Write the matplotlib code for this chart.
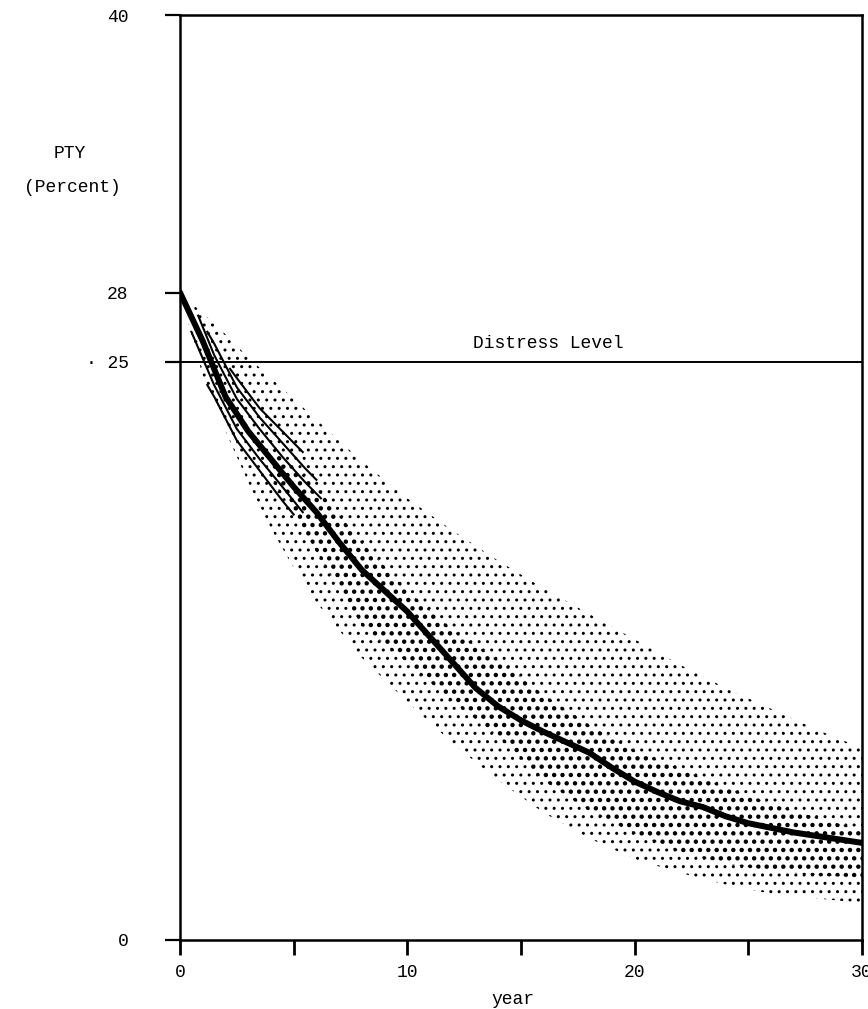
import matplotlib
matplotlib.use('Agg')
import matplotlib.pyplot as plt

# ---------------- data ----------------
years = list(range(0, 31))
mean_pty = [28.0, 25.9, 23.5, 22.0, 20.8, 19.6, 18.5, 17.2, 16.0, 15.1,
            14.2, 13.1, 12.0, 10.9, 10.1, 9.5, 9.0, 8.55, 8.1, 7.45,
            6.85, 6.4, 6.0, 5.75, 5.35, 5.05, 4.85, 4.65, 4.5, 4.35, 4.2]

band_x = [0, 1, 2, 3, 4, 5, 6, 8, 10, 12, 14, 16, 18, 20, 22, 24, 26, 28, 30]
outer_upper = [28.0, 27.1, 26.2, 25.2, 24.3, 23.4, 22.5, 20.7, 19.1, 17.7,
               16.4, 15.2, 14.1, 13.0, 11.9, 10.9, 10.0, 9.1, 8.3]
outer_lower = [28.0, 24.4, 22.0, 19.8, 17.8, 16.1, 14.6, 12.2, 10.3, 8.5,
               6.9, 5.5, 4.4, 3.5, 2.9, 2.4, 2.0, 1.8, 1.6]

dense_x = [4, 6, 8, 10, 12, 14, 16, 18, 20, 22, 24, 26, 28, 30]
dense_upper = [21.3, 19.6, 17.2, 15.1, 13.4, 12.1, 10.6, 9.3, 8.2, 7.4, 6.6, 5.9, 5.3, 4.75]
dense_lower = [20.0, 16.8, 13.6, 12.0, 10.3, 8.8, 6.9, 5.6, 4.6, 3.8, 3.3, 3.0, 2.8, 2.7]

# thin early trajectories
thin1_x = [0.8, 1.5, 2.5, 3.5, 4.5, 5.5, 6.2]
thin1_y = [27.0, 25.3, 23.4, 22.1, 20.9, 19.8, 19.1]
thin2_x = [1.2, 1.5, 2.5, 3.5, 4.5, 5.5, 6.0]
thin2_y = [26.3, 25.8, 23.9, 22.6, 21.5, 20.4, 19.9]
thin3_x = [2.2, 2.5, 3.5, 4.5, 5.4]
thin3_y = [24.7, 24.3, 23.0, 22.0, 21.1]
thin4_x = [0.5, 1.5, 2.5, 3.5, 4.5, 5.4]
thin4_y = [26.3, 24.0, 22.1, 20.8, 19.6, 18.5]
thin5_x = [1.2, 1.5, 2.5, 3.5, 4.5, 5.0]
thin5_y = [24.0, 23.5, 21.6, 20.3, 19.0, 18.4]

distress_level = 25
y_ticks = [0, 25, 28, 40]
y_ticklabels = ['0', '\u00b7 25', '28', '40']
x_major = [0, 10, 20, 30]
x_minor = [5, 15, 25]
x_ticklabels = ['0', '10', '20', '30']

# ---------------- figure ----------------
FONT = ['Liberation Mono', 'DejaVu Sans Mono']
plt.rcParams['font.family'] = FONT
plt.rcParams['hatch.color'] = 'black'

W, H = 868, 1009
fig = plt.figure(figsize=(W / 100, H / 100), dpi=100)
ax = fig.add_axes([180 / W, 1 - 940 / H, (862 - 180) / W, (940 - 15) / H])
ax.set_xlim(0, 30)
ax.set_ylim(0, 40)

OUTER_HLW, DENSE_HLW = 1.0, 1.95
with plt.rc_context({'hatch.linewidth': OUTER_HLW}):
    c1 = ax.fill_between(band_x, outer_lower, outer_upper, facecolor='none',
                         edgecolor='black', hatch='..', linewidth=0, zorder=1)
with plt.rc_context({'hatch.linewidth': DENSE_HLW}):
    c2 = ax.fill_between(dense_x, dense_lower, dense_upper, facecolor='none',
                         edgecolor='black', hatch='..', linewidth=0, zorder=2)
try:
    c1.set_hatch_linewidth(OUTER_HLW)
    c2.set_hatch_linewidth(DENSE_HLW)
except Exception:
    pass

for tx, ty in [(thin1_x, thin1_y), (thin2_x, thin2_y), (thin3_x, thin3_y),
               (thin4_x, thin4_y), (thin5_x, thin5_y)]:
    ax.plot(tx, ty, color='black', lw=1.5, zorder=3)

ax.plot(years, mean_pty, color='black', lw=4.3, solid_capstyle='round',
        solid_joinstyle='round', zorder=4)

ax.axhline(distress_level, color='black', lw=1.4, zorder=3)
ax.text(16.2, 25.8, 'Distress Level', fontsize=13, ha='center', va='center',
        family=FONT)

for s in ax.spines.values():
    s.set_linewidth(1.8)
    s.set_color('black')

ax.set_xticks(x_major)
ax.set_xticklabels(x_ticklabels)
ax.set_xticks(x_minor, minor=True)
ax.tick_params(axis='x', which='both', direction='out', length=11, width=2,
               pad=6, labelsize=13)
ax.set_yticks(y_ticks)
ax.set_yticklabels(y_ticklabels)
ax.tick_params(axis='y', which='major', direction='out', length=11, width=1.6,
               pad=26, labelsize=13)

fig.text(70 / W, 1 - 153 / H, 'PTY', fontsize=13, ha='center', va='center')
fig.text(72 / W, 1 - 188 / H, '(Percent)', fontsize=13, ha='center', va='center')
fig.text(513 / W, 1 - 1000 / H, 'year', fontsize=13, ha='center', va='center')

fig.savefig('out.png', dpi=100, facecolor='white')
